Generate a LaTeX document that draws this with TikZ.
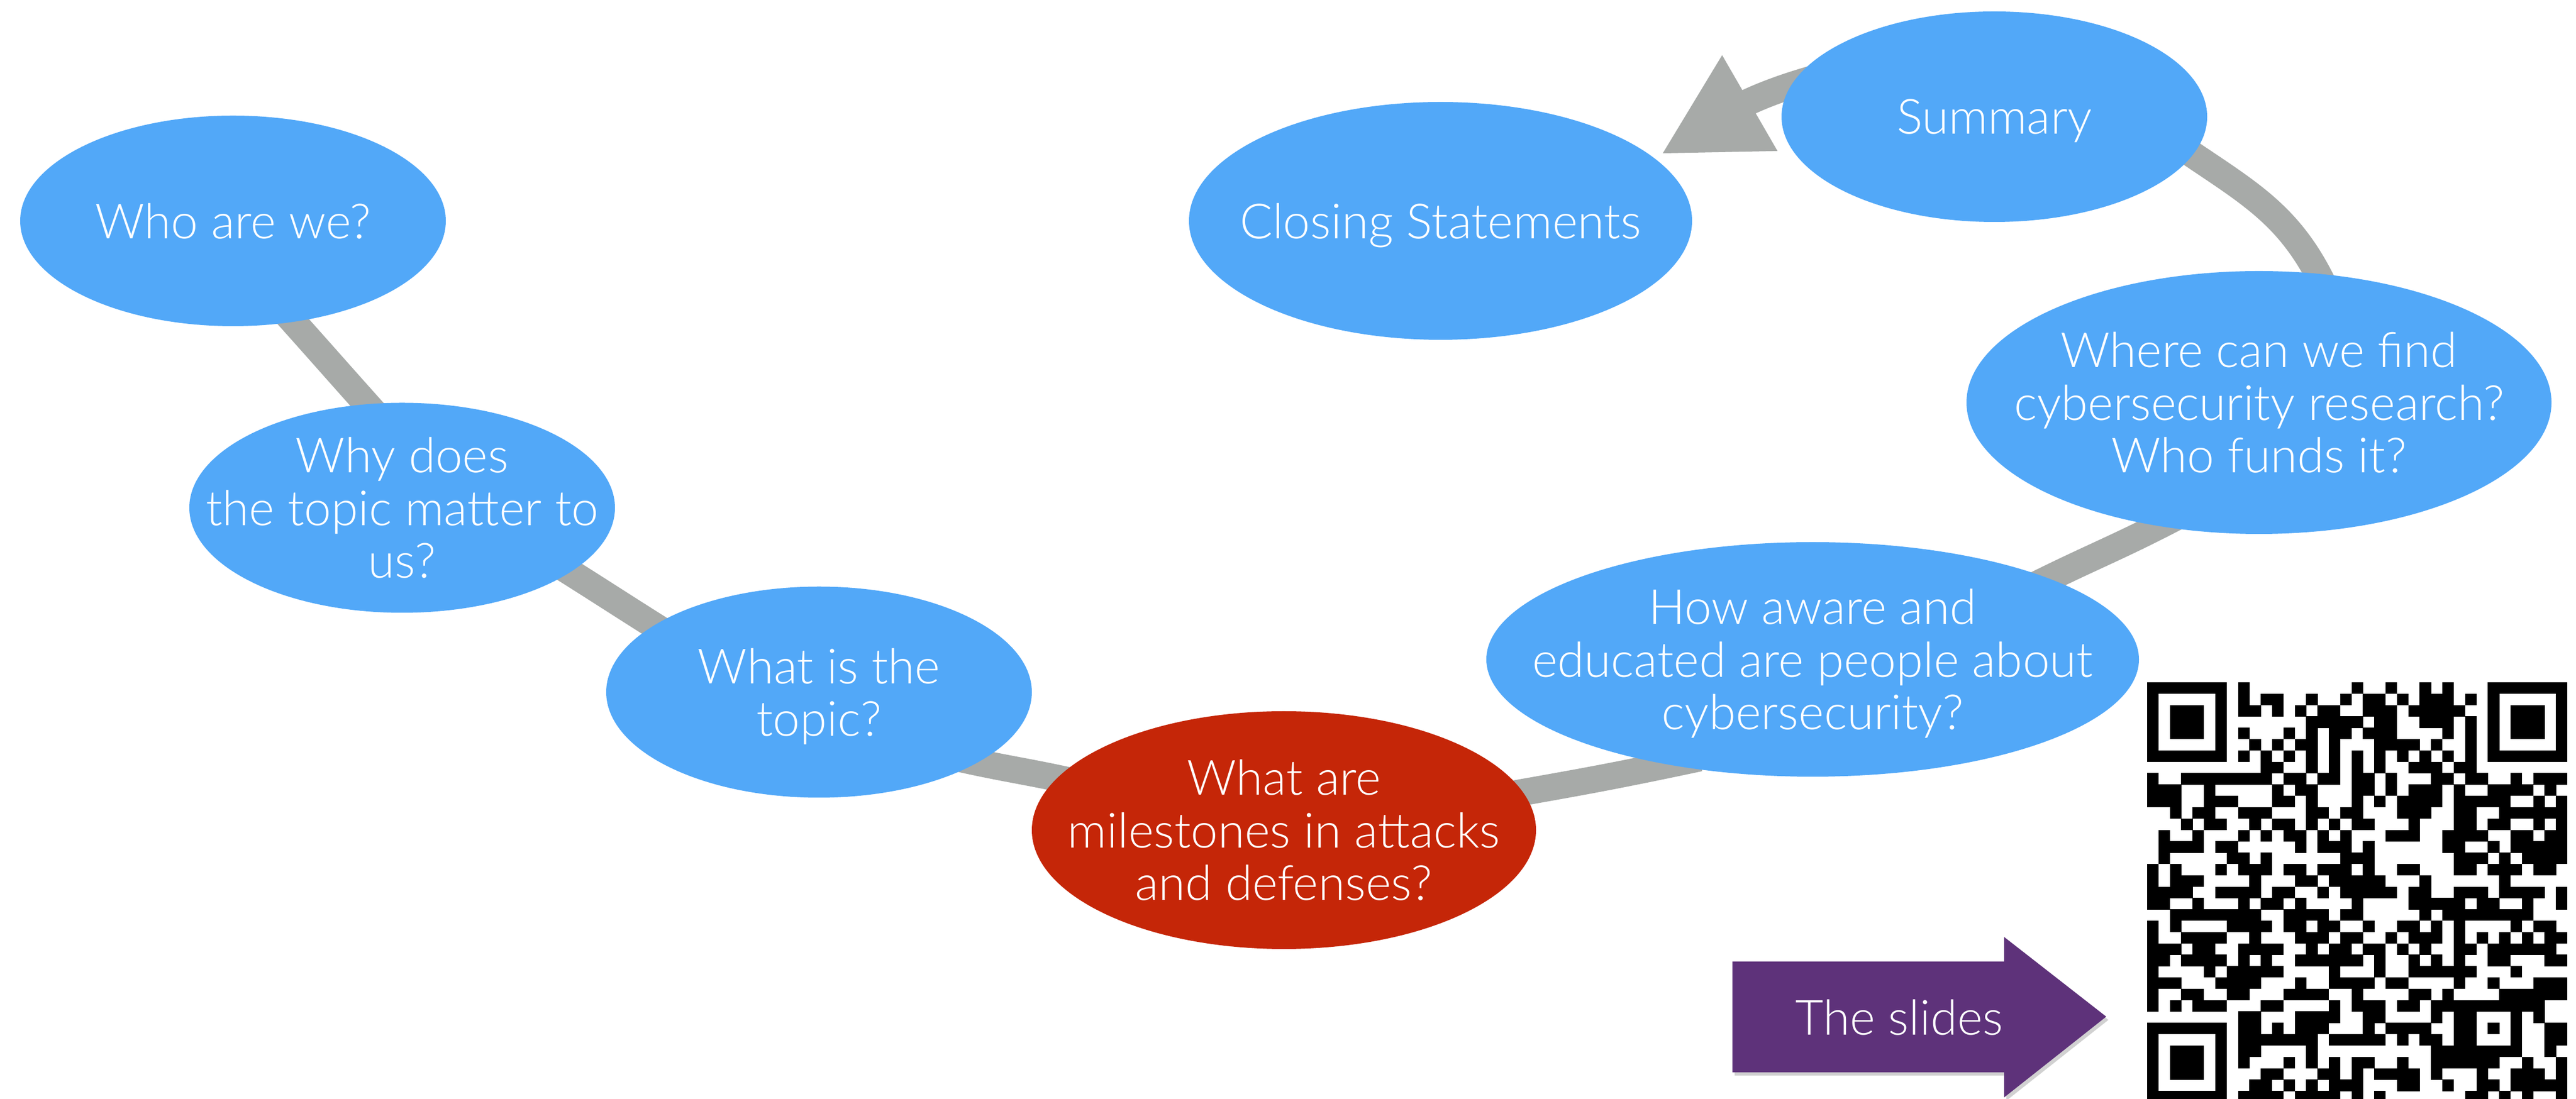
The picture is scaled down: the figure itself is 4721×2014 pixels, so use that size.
\documentclass[tikz,border=0pt]{standalone}
\usepackage{fontspec}
\IfFontExistsTF{Lato Light}{\setmainfont{Lato Light}}{\setmainfont{TeX Gyre Heros}}
\usetikzlibrary{shapes.geometric,arrows.meta,backgrounds}
\definecolor{bub}{RGB}{82,168,248}
\definecolor{redbub}{RGB}{197,38,8}
\definecolor{lgray}{RGB}{167,170,168}
\definecolor{purp}{RGB}{94,50,122}
\begin{document}
\begin{tikzpicture}[x=0.2pt,y=0.2pt,
  bubble/.style={ellipse, fill=bub, draw=none, inner sep=0pt},
  txt/.style={text=white, align=center, inner sep=0pt, text depth=0pt, font=\fontsize{17.8}{19.3}\selectfont},
  conn/.style={draw=lgray, line width=9.8pt, shorten <=-12pt, shorten >=-12pt},
  connend/.style={draw=lgray, line width=9.8pt, shorten <=-12pt, -{Triangle[length=37.6pt,width=37.6pt]}},
  qr/.style={fill=black}]
\useasboundingbox (0,0) rectangle (4721,2014);
% nodes
\node[bubble, minimum width=156pt, minimum height=77.2pt] (who) at (427,1609) {};
\node[bubble, minimum width=156pt, minimum height=77pt] (why) at (737,1083) {};
\node[bubble, minimum width=156pt, minimum height=77.4pt] (what) at (1501,745) {};
\node[bubble, fill=redbub, minimum width=184.8pt, minimum height=87.2pt] (red) at (2353,492) {};
\node[bubble, minimum width=239.2pt, minimum height=86pt] (how) at (3322,805) {};
\node[bubble, minimum width=214.4pt, minimum height=96.4pt] (where) at (4140,1276) {};
\node[bubble, minimum width=156pt, minimum height=77.2pt] (sum) at (3655,1800) {};
\node[bubble, minimum width=184.4pt, minimum height=87.2pt] (close) at (2640,1609) {};
\coordinate (tipend) at (3044,1731);
% texts
\node[txt] (whot) at (who.center) {Who are we?};
\node[txt] (whyt) at (why.center) {Why does\\the topic matter to\\us?};
\node[txt] (whatt) at (what.center) {What is the\\topic?};
\node[txt] (redt) at (red.center) {What are\\milestones in attacks\\and defenses?};
\node[txt] (howt) at (how.center) {How aware and\\educated are people about\\cybersecurity?};
\node[txt] (wheret) at (where.center) {Where can we find\\cybersecurity research?\\Who funds it?};
\node[txt] (sumt) at (sum.center) {Summary};
\node[txt] (closet) at (close.center) {Closing Statements};
% connectors behind
\begin{scope}[on background layer]
\fill[white] (0,0) rectangle (4721,2014);
\draw[conn] (who.-59) to[out=-48,in=132] (why.109);
\draw[conn] (why.-21) to[out=-32,in=148] (what.158);
\draw[conn] (what.-24) to[out=-13,in=167] (red.167);
\draw[conn] (red.9) to[out=10,in=192] (how.216);
\draw[conn] (how.19) to[out=27,in=208] (where.231);
\draw[conn] (where.65) to[out=113,in=-35] (sum.-11);
\draw[connend] (sum.171) to[out=195,in=30] (tipend);
\end{scope}
% purple arrow
\fill[black, opacity=0.18] (3179,245) -- (3677,245) -- (3677,290) -- (3864,144) -- (3677,-4) -- (3677,42) -- (3179,42) -- cycle;
\fill[purp] (3175,251) -- (3673,251) -- (3673,296) -- (3860,150) -- (3673,2) -- (3673,48) -- (3175,48) -- cycle;
\node[txt] (slides) at (3481,149) {The slides};
% QR code
\foreach \r/\cl in {
0/{0,1,2,3,4,5,6,8,18,21,24,26,30,31,32,33,34,35,36},
1/{0,6,8,10,11,14,17,19,20,22,24,25,26,28,30,36},
2/{0,2,3,4,6,8,9,11,13,15,16,19,20,21,23,24,25,26,27,30,32,33,34,36},
3/{0,2,3,4,6,14,15,16,17,18,20,21,24,25,26,28,30,32,33,34,36},
4/{0,2,3,4,6,8,12,14,16,17,19,20,21,26,28,30,32,33,34,36},
5/{0,6,9,11,13,14,16,20,21,22,23,25,28,30,36},
6/{0,1,2,3,4,5,6,8,10,12,14,16,18,20,22,24,26,28,30,31,32,33,34,35,36},
7/{10,11,14,16,18,20,23,24,25,27,28},
8/{0,3,4,5,6,7,8,9,10,12,13,15,16,18,19,21,25,26,28,29,32,34,35,36},
9/{0,1,2,5,11,13,14,18,19,21,23,24,25,27,30,31,32,33,35},
10/{0,1,2,5,6,7,11,12,14,18,20,22,23,24,25,27,28,29,30,31,34,36},
11/{2,4,5,8,9,10,14,15,17,18,22,23,24,27,28,31,32,33,34,35,36},
12/{3,5,6,9,11,12,14,16,18,19,23,27,28,30,31,34,36},
13/{1,4,8,10,12,13,15,17,21,22,23,26,27,28,29,32,33,35,36},
14/{1,2,3,4,6,7,13,15,16,17,19,26,27,30,32,33,34,35,36},
15/{1,7,8,10,17,18,19,27,28,29,31,33,34,35,36},
16/{0,2,6,8,9,10,12,13,15,16,17,19,22,23,27,28,30,31,32,34,35},
17/{0,2,3,4,9,13,14,16,17,18,19,20,24,31},
18/{0,1,2,3,6,7,8,9,11,12,15,17,18,19,20,21,23,24,27,28,29,31,32,33,34,36},
19/{0,1,4,8,10,11,13,18,23,24,25,26,27,29,30,33,36},
20/{2,3,4,5,6,7,8,9,12,13,14,15,17,18,24,26,27,28,29,30,31,32,33},
21/{0,2,7,8,9,10,12,13,15,16,19,22,23,25,27,32,34,35},
22/{0,3,4,5,6,9,13,14,15,17,18,21,23,24,25,27,29,31,33,35,36},
23/{0,1,2,4,5,8,9,10,11,14,16,17,19,20,22,24,27,28,30,31,32,33,34,35},
24/{0,1,3,4,5,6,8,10,13,14,15,16,17,18,20,23,25,27,30,31,35,36},
25/{0,5,7,8,9,10,11,16,20,23,24,25,26,27,28,32},
26/{0,1,2,6,7,8,9,13,16,17,18,19,21,22,27,30,34,35,36},
27/{0,3,4,7,8,12,13,14,15,18,23,24,26,31,32,33,34,35,36},
28/{0,2,4,5,6,10,11,16,18,19,20,22,23,25,26,27,28,29,30,31,32,33,34},
29/{8,9,13,14,15,16,19,20,25,27,28,32,34},
30/{0,1,2,3,4,5,6,8,9,11,13,14,15,19,21,22,23,24,27,28,30,32,35,36},
31/{0,6,8,9,10,11,12,13,14,16,17,18,19,20,22,24,25,27,28,32,35,36},
32/{0,2,3,4,6,8,9,14,25,26,27,28,29,30,31,32,35},
33/{0,2,3,4,6,8,12,14,16,18,19,22,25,26,27,28,29,30,33,36},
34/{0,2,3,4,6,10,11,15,16,18,20,21,22,23,25,29,32,33,34,36},
35/{0,6,9,10,12,14,16,17,18,22,23,26,29,30,32,33,34,35,36},
36/{0,1,2,3,4,5,6,8,9,10,11,13,14,15,16,18,20,28,29,31,33,36}}{
  \foreach \c in \cl {
    \fill[qr] (3935+\c*20.81, 763-\r*20.81) rectangle ++(21.2,-21.2);
  }
}
\end{tikzpicture}
\end{document}
